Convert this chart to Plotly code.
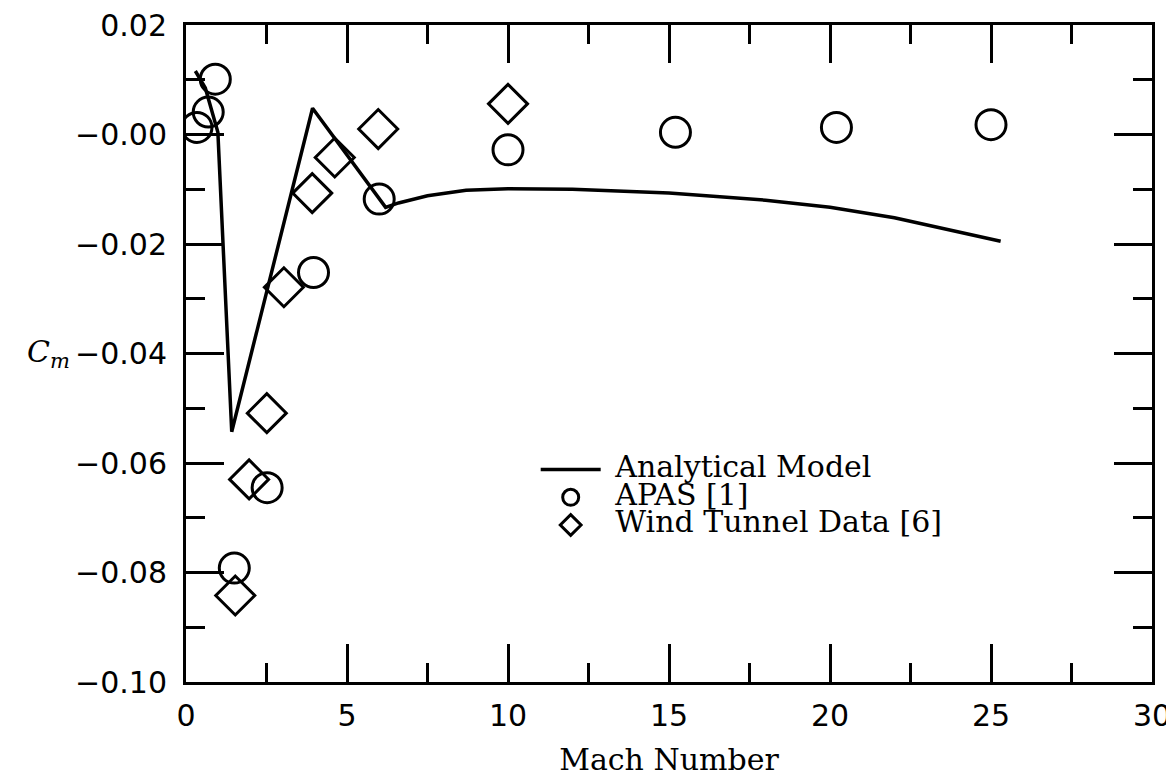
import plotly.graph_objects as go

# Analytical model curve
analytical_mach = [0.29, 0.6, 0.99, 1.42, 3.93, 6.2, 6.6, 7.5, 8.7, 10.0, 12.0, 15.0, 18.0, 20.0, 22.0, 25.3]
analytical_cm = [0.0116, 0.0085, 0.0004, -0.0543, 0.0048, -0.0133, -0.0125, -0.0112, -0.0102, -0.0099, -0.0100, -0.0107, -0.0120, -0.0133, -0.0152, -0.0195]

# APAS [1] (circles)
apas_mach = [0.34, 0.69, 0.91, 1.5, 2.52, 3.96, 6.0, 10.0, 15.2, 20.2, 25.0]
apas_cm = [0.0013, 0.0041, 0.0101, -0.0792, -0.0645, -0.0252, -0.0118, -0.0028, 0.0004, 0.0013, 0.0018]

# Wind tunnel data [6] (diamonds)
wt_mach = [1.53, 1.96, 2.51, 3.04, 3.92, 4.62, 5.97, 10.0]
wt_cm = [-0.0842, -0.0630, -0.0509, -0.0279, -0.0107, -0.0042, 0.0010, 0.0056]

x_ticks = [0, 5, 10, 15, 20, 25, 30]
y_ticks = [0.02, 0.0, -0.02, -0.04, -0.06, -0.08, -0.10]
y_tick_text = ["0.02", "\u22120.00", "\u22120.02", "\u22120.04", "\u22120.06", "\u22120.08", "\u22120.10"]

series_names = ["Analytical Model", "APAS [1]", "Wind Tunnel Data [6]"]

def legend_label(s):
    return '<span style="font-size:30px">\u00a0' + s + '</span>'

fig = go.Figure()
fig.add_trace(go.Scatter(x=analytical_mach, y=analytical_cm, mode="lines",
                         line=dict(color="black", width=3.5), name=legend_label(series_names[0])))
fig.add_trace(go.Scatter(x=apas_mach, y=apas_cm, mode="markers",
                         marker=dict(symbol="circle-open", size=30, color="black", line=dict(width=3, color="black")),
                         name=legend_label(series_names[1])))
fig.add_trace(go.Scatter(x=wt_mach, y=wt_cm, mode="markers",
                         marker=dict(symbol="diamond-open", size=30, color="black", line=dict(width=3, color="black")),
                         name=legend_label(series_names[2])))

axis_common = dict(
    showline=True, linewidth=3, linecolor="black", mirror="ticks",
    ticks="inside", ticklen=38, tickwidth=3, tickcolor="black",
    showgrid=False, zeroline=False, automargin=False,
    ticklabeloverflow="allow",
    tickfont=dict(family="DejaVu Sans", size=30, color="black"),
)

fig.update_xaxes(range=[0, 30], tickvals=x_ticks,
                 minor=dict(dtick=2.5, tick0=0, ticks="inside", ticklen=19, tickwidth=3, tickcolor="black"),
                 ticklabelstandoff=5,
                 title=dict(text="Mach Number", font=dict(family="DejaVu Serif", size=30, color="black"), standoff=17),
                 **axis_common)
fig.update_yaxes(range=[-0.10, 0.02], tickvals=y_ticks, ticktext=y_tick_text,
                 minor=dict(dtick=0.01, tick0=0, ticks="inside", ticklen=19, tickwidth=3, tickcolor="black"),
                 ticklabelstandoff=10,
                 **axis_common)

fig.add_annotation(text="<i>C<sub>m</sub></i>", xref="paper", yref="y", x=-0.118, y=-0.04,
                   xanchor="right", yanchor="middle", showarrow=False,
                   font=dict(family="DejaVu Serif", size=30, color="black"))

fig.update_layout(
    width=1174, height=779,
    margin=dict(l=178, r=30, t=17, b=105, autoexpand=False),
    plot_bgcolor="white", paper_bgcolor="white",
    legend=dict(x=0.362, y=0.352, xanchor="left", yanchor="top",
                font=dict(family="DejaVu Serif", size=19, color="black"),
                bgcolor="rgba(0,0,0,0)", itemwidth=60, tracegroupgap=0),
    showlegend=True,
)

fig.write_html("out.html")
